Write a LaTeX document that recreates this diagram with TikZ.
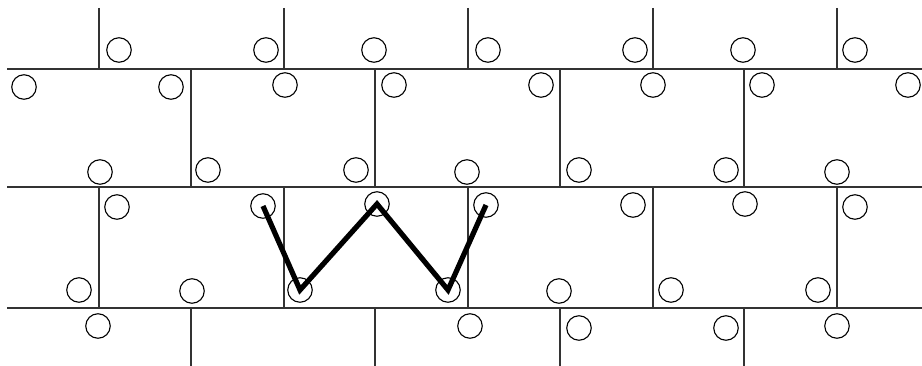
\documentclass[tikz,border=0pt]{standalone}
\begin{document}
\begin{tikzpicture}[x=1pt,y=-1pt,
  wall/.style={line width=1.3pt,draw=black!80},
  ring/.style={circle,draw=black,line width=1.1pt,minimum size=24.5pt,inner sep=0pt},
  zig/.style={line width=5.2pt,draw=black,line join=miter}]
\useasboundingbox (0,0) rectangle (922,366);
% horizontal courses
\foreach \y in {69,187,308} \draw[wall] (7,\y) -- (922,\y);
% vertical joints
\foreach \x in {99,284,468,653,837} {
  \draw[wall] (\x,8) -- (\x,69);
  \draw[wall] (\x,187) -- (\x,308);
}
\foreach \x in {191,375,560,744} {
  \draw[wall] (\x,69) -- (\x,187);
  \draw[wall] (\x,308) -- (\x,366);
}
% circles
\node[ring] (a1) at (119,50) {};
\node[ring] (a2) at (266,50) {};
\node[ring] (a3) at (374,50) {};
\node[ring] (a4) at (488,50) {};
\node[ring] (a5) at (635,50) {};
\node[ring] (a6) at (743,50) {};
\node[ring] (a7) at (855,50) {};
\node[ring] (b1) at (24,87) {};
\node[ring] (b2) at (171,87) {};
\node[ring] (b3) at (285,85) {};
\node[ring] (b4) at (394,85) {};
\node[ring] (b5) at (541,85) {};
\node[ring] (b6) at (653,85) {};
\node[ring] (b7) at (762,85) {};
\node[ring] (b8) at (908,85) {};
\node[ring] (c1) at (100,172) {};
\node[ring] (c2) at (208,170) {};
\node[ring] (c3) at (356,170) {};
\node[ring] (c4) at (467,172) {};
\node[ring] (c5) at (579,170) {};
\node[ring] (c6) at (726,170) {};
\node[ring] (c7) at (837,172) {};
\node[ring] (d1) at (117,207) {};
\node[ring] (d2) at (263,206) {};
\node[ring] (d3) at (377,204) {};
\node[ring] (d4) at (486,205) {};
\node[ring] (d5) at (633,205) {};
\node[ring] (d6) at (745,204) {};
\node[ring] (d7) at (855,207) {};
\node[ring] (e1) at (79,290) {};
\node[ring] (e2) at (192,291) {};
\node[ring] (e3) at (300,290) {};
\node[ring] (e4) at (448,290) {};
\node[ring] (e5) at (559,291) {};
\node[ring] (e6) at (671,290) {};
\node[ring] (e7) at (818,290) {};
\node[ring] (f1) at (98,326) {};
\node[ring] (f2) at (470,326) {};
\node[ring] (f3) at (579,328) {};
\node[ring] (f4) at (726,328) {};
\node[ring] (f5) at (837,326) {};
% W path
\draw[zig] (d2.center) -- (e3.center) -- (d3.center) -- (e4.center) -- (d4.center);
\end{tikzpicture}
\end{document}
